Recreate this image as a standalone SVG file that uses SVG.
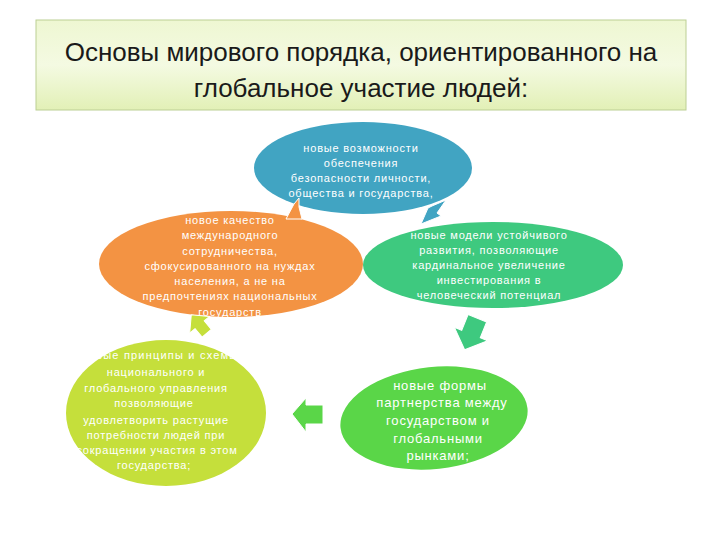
<svg xmlns="http://www.w3.org/2000/svg" width="720" height="540" viewBox="0 0 720 540">
<defs>
<linearGradient id="tg" x1="0" y1="0" x2="0" y2="1">
<stop offset="0" stop-color="#eef7d2"/>
<stop offset="0.5" stop-color="#f4fae2"/>
<stop offset="1" stop-color="#e2f0b6"/>
</linearGradient>
<style>
.t{font-family:"Liberation Sans",Arial,sans-serif;fill:#ffffff;text-anchor:middle;font-size:11px;letter-spacing:0.8px}
.title{font-family:"Liberation Sans",Arial,sans-serif;fill:#1a1a1a;text-anchor:middle;font-size:26px}
.arr{stroke:#ffffff;stroke-width:1}
</style>
</defs>
<rect width="720" height="540" fill="#ffffff"/>
<g id="title">
<rect x="36" y="20" width="650" height="90" fill="url(#tg)" stroke="#bccf94" stroke-width="1"/>
<text class="title" x="361" y="61">Основы мирового порядка, ориентированного на</text>
<text class="title" x="361" y="97">глобальное участие людей:</text>
</g>
<g id="node-blue">
<ellipse cx="363" cy="168" rx="109" ry="46" fill="#41a4c2"/>
<text class="t" x="361" y="152">новые возможности</text>
<text class="t" x="361" y="167">обеспечения</text>
<text class="t" x="361" y="182">безопасности личности,</text>
<text class="t" x="361" y="197">общества и государства,</text>
</g>
<g id="node-orange">
<ellipse cx="231" cy="264" rx="132" ry="53" fill="#f39343"/>
<text class="t" x="230" y="224">новое качество</text>
<text class="t" x="230" y="239">международного</text>
<text class="t" x="230" y="255">сотрудничества,</text>
<text class="t" x="230" y="270">сфокусированного на нуждах</text>
<text class="t" x="230" y="285">населения, а не на</text>
<text class="t" x="230" y="300">предпочтениях национальных</text>
<text class="t" x="230" y="316">государств</text>
</g>
<g id="node-teal">
<ellipse cx="493" cy="265" rx="130" ry="43" fill="#3ec97f"/>
<text class="t" x="489" y="239">новые модели устойчивого</text>
<text class="t" x="489" y="254">развития, позволяющие</text>
<text class="t" x="489" y="269">кардинальное увеличение</text>
<text class="t" x="489" y="284">инвестирования в</text>
<text class="t" x="489" y="299">человеческий потенциал</text>
</g>
<g id="node-green">
<ellipse cx="434" cy="418" rx="94" ry="51" fill="#5ad648" transform="rotate(-6 434 418)"/>
<text class="t" x="440" y="390" style="font-size:13px">новые формы</text>
<text class="t" x="442" y="407" style="font-size:13px">партнерства между</text>
<text class="t" x="438" y="425" style="font-size:13px">государством и</text>
<text class="t" x="438" y="443" style="font-size:13px">глобальными</text>
<text class="t" x="438" y="460" style="font-size:13px">рынками;</text>
</g>
<g id="node-lime">
<ellipse cx="166" cy="413" rx="100" ry="73" fill="#c5df3b"/>
<text class="t" x="160" y="359" style="letter-spacing:1.2px">новые принципы и схемы</text>
<text class="t" x="156" y="376">национального и</text>
<text class="t" x="156" y="392">глобального управления</text>
<text class="t" x="154" y="407">позволяющие</text>
<text class="t" x="156" y="424">удовлетворить растущие</text>
<text class="t" x="156" y="439">потребности людей при</text>
<text class="t" x="157" y="454">сокращении участия в этом</text>
<text class="t" x="154" y="469">государства;</text>
</g>
<g id="connectors">
<path class="arr" d="M286,219 L294,204 L299,198 L299,207 L302,219 Z" fill="#f39343"/>
<path class="arr" d="M432,206 L446,200 L437,213 L441,216 L421,224 L428,208 Z" fill="#41a4c2"/>
<g transform="translate(471,334) rotate(22)"><path class="arr" d="M-10,-17 L10,-17 L10,0 L18,0 L0,17 L-18,0 L-10,0 Z" fill="#3ec97f"/></g>
<path class="arr" d="M292,414 L306,398 L306,405 L323,405 L323,424 L306,424 L306,432 Z" fill="#5ad648"/>
<g transform="translate(199,324) rotate(-40)"><path class="arr" d="M-6,12 L6,12 L6,1 L13,1 L0,-12 L-13,1 L-6,1 Z" fill="#c5df3b"/></g>
</g>
</svg>
